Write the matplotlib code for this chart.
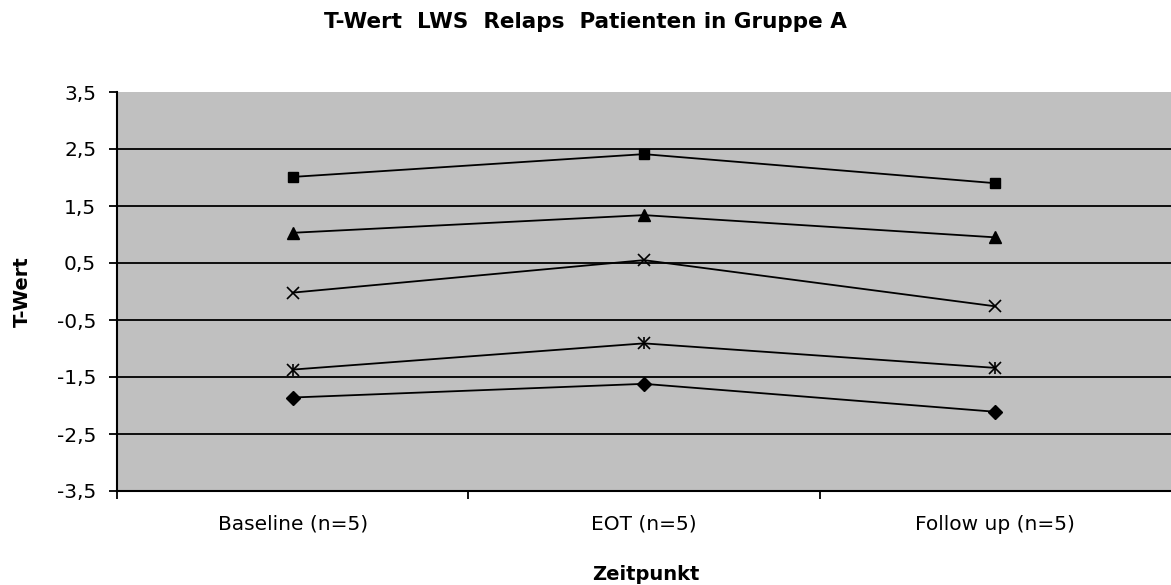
import matplotlib
matplotlib.use('Agg')
import matplotlib.pyplot as plt
from matplotlib.ticker import FuncFormatter

plt.rcParams['font.family'] = ['DejaVu Sans']

categories = ['Baseline (n=5)', 'EOT (n=5)', 'Follow up (n=5)']
squares = [2.01, 2.41, 1.90]
triangles = [1.03, 1.34, 0.95]
crosses = [-0.02, 0.55, -0.26]
stars = [-1.37, -0.91, -1.34]
diamonds = [-1.86, -1.62, -2.11]

y_ticks = [3.5, 2.5, 1.5, 0.5, -0.5, -1.5, -2.5, -3.5]

fig = plt.figure(figsize=(11.71, 5.85), dpi=100)
ax = fig.add_axes([117 / 1171, 94 / 585, 1 - 117 / 1171, (491 - 92) / 585])
ax.set_facecolor('#c0c0c0')

x = list(range(len(categories)))
line_kw = dict(color='black', lw=1.3)
ax.plot(x, squares, marker='s', ms=7.5, **line_kw)
ax.plot(x, triangles, marker='^', ms=8.5, **line_kw)
ax.plot(x, crosses, marker='x', ms=8.5, mew=1.2, **line_kw)
ax.plot(x, stars, marker='x', ms=8, mew=1.2, **line_kw)
ax.plot(x, stars, ls='none', marker='|', ms=9, mew=1.2, color='black')
ax.plot(x, diamonds, marker='D', ms=7, **line_kw)

ax.set_xlim(-0.5, 2.5)
ax.set_ylim(-3.5, 3.5)
ax.set_yticks(y_ticks)
ax.yaxis.set_major_formatter(FuncFormatter(lambda v, _: ('%.1f' % v).replace('.', ',')))
for y in y_ticks[1:-1]:
    ax.axhline(y, color='black', lw=1.3, zorder=1)

ax.set_xticks([-0.5, 0.5, 1.5])
ax.set_xticklabels([])
ax.set_xticks(x, minor=True)
ax.set_xticklabels(categories, minor=True, fontsize=14.5)
ax.tick_params(axis='x', which='minor', length=0, pad=17)
ax.tick_params(axis='x', which='major', length=6, width=1.3, direction='out')
ax.tick_params(axis='y', length=6, width=1.3, labelsize=14.5, pad=9)

for side in ['top', 'right']:
    ax.spines[side].set_visible(False)
for side in ['left', 'bottom']:
    ax.spines[side].set_linewidth(1.5)

fig.text(0.5, 1 - 28 / 585, 'T-Wert  LWS  Relaps  Patienten in Gruppe A',
         ha='center', va='baseline', fontsize=15.5, fontweight='bold')
fig.text(646 / 1171, 1 - 580 / 585, 'Zeitpunkt', ha='center', va='baseline',
         fontsize=14, fontweight='bold')
fig.text(22 / 1171, 1 - 292 / 585, 'T-Wert', ha='center', va='center',
         rotation=90, fontsize=14, fontweight='bold')

fig.savefig('out.png', dpi=100)
